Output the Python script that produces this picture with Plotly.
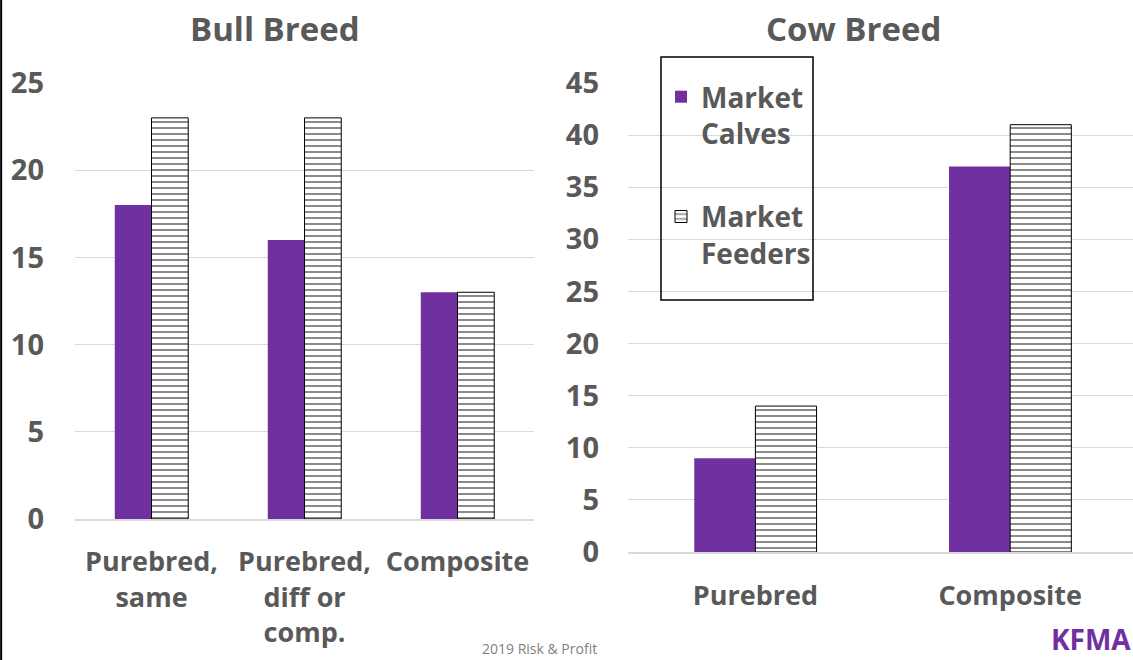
import plotly.graph_objects as go

# ---- data ----
bull_categories = ["Purebred,<br>same", "Purebred,<br>diff or<br>comp.", "Composite"]
bull_calves = [18, 16, 13]
bull_feeders = [23, 23, 13]

cow_categories = ["Purebred", "Composite"]
cow_calves = [9, 37]
cow_feeders = [14, 41]

series_names = ["Market<br>Calves", "Market<br>Feeders"]
titles = ["Bull Breed", "Cow Breed"]

PURPLE = "#7030A0"
GRAY = "#595959"
GRID = "#d9d9d9"
FONT = "Open Sans"
W, H = 1133, 660


def px(x):
    return x / W


def py(y):
    return (H - y) / H


fig = go.Figure()


def add_pair(cats, calves, feeders, xa, ya, show):
    fig.add_trace(go.Bar(
        x=cats, y=calves, name=series_names[0], xaxis=xa, yaxis=ya,
        marker=dict(color=PURPLE, line=dict(width=0)),
        showlegend=show, legendgroup="a"))
    fig.add_trace(go.Bar(
        x=cats, y=feeders, name=series_names[1], xaxis=xa, yaxis=ya,
        marker=dict(color="white", line=dict(color="black", width=1),
                    pattern=dict(shape="-", fgcolor="black", bgcolor="white",
                                 size=6, solidity=0.3)),
        showlegend=show, legendgroup="b"))


add_pair(bull_categories, bull_calves, bull_feeders, "x", "y", False)
add_pair(cow_categories, cow_calves, cow_feeders, "x2", "y2", True)

tickfont = dict(family=FONT, size=29, color=GRAY, weight="bold")
xtickfont = dict(family=FONT, size=27, color=GRAY, weight="bold")

fig.update_layout(
    width=W, height=H,
    margin=dict(l=0, r=0, t=0, b=0, autoexpand=False),
    paper_bgcolor="white", plot_bgcolor="white",
    barmode="group", bargap=0.52, bargroupgap=0,
    xaxis=dict(domain=[px(75), px(534)], range=[-0.5, 2.5], anchor="y",
               showline=True, linecolor=GRID, linewidth=2, showgrid=False,
               tickfont=xtickfont, ticklabelstandoff=18),
    yaxis=dict(domain=[py(519), py(83)], range=[0, 25], anchor="x",
               dtick=5, showgrid=True, gridcolor=GRID, gridwidth=1,
               zeroline=False, showline=False, tickfont=tickfont,
               ticklabelstandoff=30),
    xaxis2=dict(domain=[px(628), 1.0], range=[-0.5, 1.482], anchor="y2",
                showline=True, linecolor=GRID, linewidth=2, showgrid=False,
                tickfont=xtickfont, ticklabelstandoff=19),
    yaxis2=dict(domain=[py(552), py(83)], range=[0, 45], anchor="x2",
                dtick=5, showgrid=True, gridcolor=GRID, gridwidth=1,
                zeroline=False, showline=False, tickfont=tickfont,
                ticklabelstandoff=28),
    legend=dict(x=px(661), y=py(72), xanchor="left", yanchor="top",
                borderwidth=0, bgcolor="rgba(0,0,0,0)",
                font=dict(family=FONT, size=28, color=GRAY, weight="bold"),
                tracegroupgap=44, valign="top", itemwidth=30,
                traceorder="grouped"),
    showlegend=True,
)

# legend frame
fig.add_shape(type="rect", xref="paper", yref="paper",
              x0=px(661), x1=px(813), y0=py(300), y1=py(57),
              line=dict(color="black", width=1.5), fillcolor="rgba(0,0,0,0)", layer="above")

# titles
for t, cx in zip(titles, [275, 853]):
    fig.add_annotation(text=t, x=px(cx), y=py(28), xref="paper", yref="paper",
                       xanchor="center", yanchor="middle", showarrow=False,
                       font=dict(family=FONT, size=33, color=GRAY, weight="bold"))

# footer
fig.add_annotation(text="2019 Risk & Profit", x=px(480), y=0,
                   xref="paper", yref="paper", xanchor="left", yanchor="bottom",
                   showarrow=False, font=dict(family=FONT, size=14, color="#7f7f7f"))
fig.add_annotation(text="KFMA", x=1.0, y=0,
                   xref="paper", yref="paper", xanchor="right", yanchor="bottom",
                   showarrow=False, font=dict(family=FONT, size=28, color=PURPLE, weight="bold"))

# left border
fig.add_shape(type="line", xref="paper", yref="paper", x0=0.001, x1=0.001, y0=0, y1=1,
              line=dict(color="black", width=2))

fig.write_html("out.html",
               config={"displayModeBar": False},
               post_script="document.body.style.margin='0';document.body.style.overflow='hidden';")
